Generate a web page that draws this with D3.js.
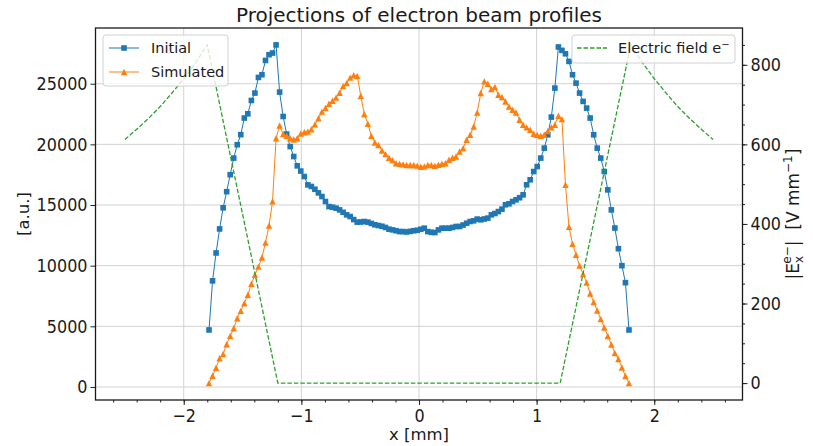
<!DOCTYPE html>
<html>
<head>
<meta charset="utf-8">
<title>Projections of electron beam profiles</title>
<script src="https://d3js.org/d3.v7.min.js"></script>
<style>
  body { margin: 0; background: #fff; }
  text { font-family: "DejaVu Sans", sans-serif; fill: #1a1a1a; }
</style>
</head>
<body>
<svg width="813" height="446"></svg>
<script>

// histogram of the beam projection: 120 bins between -1.8 and 1.8 mm
var binRange = [-1.8, 1.8], binCount = 120;

// counts per bin [a.u.]
var initial = [
  4700, 8750, 11050, 13030, 14770, 16100, 17500, 18870, 19970, 20800,
  22170, 22520, 23620, 24230, 25520, 25740, 26920, 27390, 27530, 28200,
  24310, 22300, 20850, 19820, 19000, 18230, 17800, 17350, 16660, 16530,
  16300, 16000, 15700, 15290, 14870, 14820, 14740, 14600, 14400, 14190,
  14050, 13800, 13590, 13600, 13640, 13590, 13480, 13370, 13310, 13250,
  13150, 13010, 12950, 12880, 12810, 12810, 12780, 12830, 12880, 12920,
  13000, 13090, 12810, 12750, 12730, 12950, 13090, 13090, 13090, 13150,
  13230, 13230, 13350, 13500, 13640, 13700, 13840, 13780, 13850, 13920,
  14190, 14300, 14460, 14660, 15020, 15100, 15290, 15430, 15600, 15840,
  16670, 17080, 17760, 18170, 18870, 19690, 20790, 22250, 24640, 28030,
  27750, 27470, 26840, 25740, 25050, 24230, 23540, 22990, 22170, 20790,
  19690, 18870, 17760, 16250, 14600, 13100, 11400, 10000, 8600, 4700
];

var simulated = [
  320, 930, 1590, 2370, 2720, 3520, 4210, 4840, 5670, 6270,
  6900, 7590, 8500, 9240, 9920, 10670, 11900, 13300, 15300, 20500,
  21550, 20850, 20700, 20500, 20400, 20500, 20900, 21000, 21050, 21250,
  21650, 22150, 22700, 23000, 23350, 23600, 23850, 24250, 24800, 25050,
  25500, 25700, 25650, 24000, 22500, 21700, 20700, 20150, 19950, 19500,
  19200, 18900, 18700, 18450, 18400, 18350, 18300, 18300, 18300, 18250,
  18150, 18170, 18300, 18300, 18230, 18320, 18400, 18450, 18730, 18900,
  19000, 19410, 19690, 20380, 20790, 21470, 22630, 24230, 25190, 25000,
  24560, 24730, 24090, 23900, 23540, 23120, 22850, 22630, 22030, 21620,
  21400, 21200, 20870, 20780, 20710, 20790, 21100, 21400, 21620, 22360,
  22080, 16670, 13200, 11800, 10900, 10000, 9300, 8600, 7700, 7000,
  6300, 5600, 4900, 4200, 3500, 2800, 2300, 1600, 900, 320
];

// electric field |E_x| [V/mm]
var fieldX = [-2.5, -2.4, -2.3, -2.2, -2.1, -2.0, -1.9, -1.8, -1.2,
               1.2,  1.8,  1.9,  2.0,  2.1,  2.2,  2.3,  2.4,  2.5];
var fieldE = [612, 638, 665, 695, 729, 765, 805, 850, 0,
              0, 850, 805, 765, 729, 695, 665, 638, 612];

var xTicks = [-2, -1, 0, 1, 2];
var yTicks = [0, 5000, 10000, 15000, 20000, 25000];
var eTicks = [0, 200, 400, 600, 800];

var blue = "#1f77b4", orange = "#ff7f0e", green = "#2ca02c";

// plot area (note: "top" is taken by window.top, so prefix everything)
var plotLeft = 95.5, plotRight = 742.5, plotTop = 28, plotBottom = 400;

var binWidth = (binRange[1] - binRange[0]) / binCount;
var binX = d3.range(binCount).map(function(i) { return binRange[0] + binWidth * (i + 0.5); });

// matplotlib style 5% margins around the data
function padded(ext) {
  var p = 0.05 * (ext[1] - ext[0]);
  return [ext[0] - p, ext[1] + p];
}

var x = d3.scaleLinear().domain(padded(d3.extent(fieldX))).range([plotLeft, plotRight]);
var y = d3.scaleLinear().domain(padded(d3.extent(initial.concat(simulated)))).range([plotBottom, plotTop]);
var yE = d3.scaleLinear().domain(padded(d3.extent(fieldE))).range([plotBottom, plotTop]);

var svg = d3.select("svg");

svg.append("defs").append("clipPath").attr("id", "plot")
  .append("rect").attr("x", plotLeft).attr("y", plotTop)
  .attr("width", plotRight - plotLeft).attr("height", plotBottom - plotTop);

// grid
var grid = svg.append("g").attr("stroke", "#d2d2d2").attr("stroke-width", 1);
grid.selectAll(".gx").data(xTicks).enter().append("line")
    .attr("x1", function(d) { return x(d); }).attr("x2", function(d) { return x(d); })
    .attr("y1", plotTop).attr("y2", plotBottom);
grid.selectAll(".gy").data(yTicks).enter().append("line")
    .attr("x1", plotLeft).attr("x2", plotRight)
    .attr("y1", function(d) { return y(d); }).attr("y2", function(d) { return y(d); });

var plot = svg.append("g").attr("clip-path", "url(#plot)");

// initial profile: line + squares
var line = d3.line().x(function(d, i) { return x(binX[i]); }).y(function(d) { return y(d); });
plot.append("path").datum(initial).attr("d", line)
    .attr("fill", "none").attr("stroke", blue).attr("stroke-width", 1);
plot.selectAll(".sq").data(initial).enter().append("rect")
    .attr("x", function(d, i) { return x(binX[i]) - 2.8; })
    .attr("y", function(d) { return y(d) - 2.8; })
    .attr("width", 5.6).attr("height", 5.6)
    .attr("fill", blue);

// simulated profile: line + triangles
var tri = "M0,-3.2L3.2,3.2L-3.2,3.2Z";
plot.append("path").datum(simulated).attr("d", line)
    .attr("fill", "none").attr("stroke", orange).attr("stroke-width", 1);
plot.selectAll(".tri").data(simulated).enter().append("path")
    .attr("d", tri)
    .attr("transform", function(d, i) { return "translate(" + x(binX[i]) + "," + y(d) + ")"; })
    .attr("fill", orange);

// legend for the left axis
var leg1 = svg.append("g");
leg1.append("rect").attr("x", 103).attr("y", 35).attr("width", 125).attr("height", 51)
    .attr("rx", 3).attr("fill", "white").attr("fill-opacity", 0.8).attr("stroke", "#d0d0d0");
leg1.append("line").attr("x1", 109).attr("x2", 139).attr("y1", 48).attr("y2", 48)
    .attr("stroke", blue).attr("stroke-width", 1);
leg1.append("rect").attr("x", 121.2).attr("y", 45.2).attr("width", 5.6).attr("height", 5.6).attr("fill", blue);
leg1.append("line").attr("x1", 109).attr("x2", 139).attr("y1", 72).attr("y2", 72)
    .attr("stroke", orange).attr("stroke-width", 1);
leg1.append("path").attr("d", tri).attr("transform", "translate(124,72)").attr("fill", orange);
leg1.append("text").attr("x", 151).attr("y", 48).attr("dy", "0.36em").style("font-size", "14.5px").text("Initial");
leg1.append("text").attr("x", 151).attr("y", 72).attr("dy", "0.36em").style("font-size", "14.5px").text("Simulated");

// electric field on the right axis
var fline = d3.line().x(function(d, i) { return x(fieldX[i]); }).y(function(d) { return yE(d); });
plot.append("path").datum(fieldE).attr("d", fline)
    .attr("fill", "none").attr("stroke", green).attr("stroke-width", 1.3)
    .attr("stroke-dasharray", "4.5,2");

var leg2 = svg.append("g");
leg2.append("rect").attr("x", 572).attr("y", 35).attr("width", 163).attr("height", 28)
    .attr("rx", 3).attr("fill", "white").attr("fill-opacity", 0.8).attr("stroke", "#d0d0d0");
leg2.append("line").attr("x1", 577).attr("x2", 607).attr("y1", 48).attr("y2", 48)
    .attr("stroke", green).attr("stroke-width", 1.3).attr("stroke-dasharray", "4.5,2");
var lt = leg2.append("text").attr("x", 618).attr("y", 48).attr("dy", "0.36em").style("font-size", "14.5px");
lt.append("tspan").text("Electric field e");
lt.append("tspan").attr("dy", -5).style("font-size", "10px").text("\u2212");

// axes: tick labels a bit taller than wide, like the original
function styleAxis(g) {
  g.select(".domain").remove();
  g.selectAll(".tick line").attr("stroke", "#222").attr("stroke-width", 1);
  g.selectAll(".tick text").style("font-size", "18px").attr("fill", "#1a1a1a")
    .each(function() {
      var w = this.getComputedTextLength();
      if (w > 0) d3.select(this).attr("textLength", w * 16 / 18).attr("lengthAdjust", "spacingAndGlyphs");
    });
}

svg.append("g").attr("transform", "translate(0," + plotBottom + ")")
    .call(d3.axisBottom(x).tickValues(d3.range(-2.6, 2.61, 0.2)).tickSize(2.5).tickFormat(""))
    .call(styleAxis);
svg.append("g").attr("transform", "translate(0," + plotBottom + ")")
    .call(d3.axisBottom(x).tickValues(xTicks).tickSize(5).tickPadding(4).tickFormat(d3.format("d")))
    .call(styleAxis);

svg.append("g").attr("transform", "translate(" + plotLeft + ",0)")
    .call(d3.axisLeft(y).tickValues(yTicks).tickSize(5).tickPadding(3).tickFormat(d3.format("d")))
    .call(styleAxis);

svg.append("g").attr("transform", "translate(" + plotRight + ",0)")
    .call(d3.axisRight(yE).tickValues(d3.range(0, 851, 50)).tickSize(2.5).tickFormat(""))
    .call(styleAxis);
svg.append("g").attr("transform", "translate(" + plotRight + ",0)")
    .call(d3.axisRight(yE).tickValues(eTicks).tickSize(5).tickPadding(3).tickFormat(d3.format("d")))
    .call(styleAxis);

// frame
svg.append("rect").attr("x", plotLeft).attr("y", plotTop)
    .attr("width", plotRight - plotLeft).attr("height", plotBottom - plotTop)
    .attr("fill", "none").attr("stroke", "#1a1a1a").attr("stroke-width", 1.3);

// titles
var midX = (plotLeft + plotRight) / 2, midY = (plotTop + plotBottom) / 2;
svg.append("text").attr("x", midX).attr("y", 22).attr("text-anchor", "middle")
    .style("font-size", "20px").text("Projections of electron beam profiles");
svg.append("text").attr("x", midX).attr("y", 440).attr("text-anchor", "middle")
    .style("font-size", "16.5px").text("x [mm]");
svg.append("text").attr("transform", "translate(29," + midY + ") rotate(-90)")
    .attr("text-anchor", "middle").style("font-size", "16.5px").text("[a.u.]");

var rl = svg.append("text").attr("transform", "translate(799," + midY + ") rotate(-90)")
    .attr("text-anchor", "middle").style("font-size", "17px").style("white-space", "pre");
rl.append("tspan").text("|E");
rl.append("tspan").attr("dy", 4).style("font-size", "12px").text("x");
rl.append("tspan").attr("dx", -7.5).attr("dy", -12).style("font-size", "12px").text("e\u2212");
rl.append("tspan").attr("dy", 8).text("|  [V mm");
rl.append("tspan").attr("dy", -7).style("font-size", "12px").text("\u22121");
rl.append("tspan").attr("dy", 7).text("]");

</script>
</body>
</html>
